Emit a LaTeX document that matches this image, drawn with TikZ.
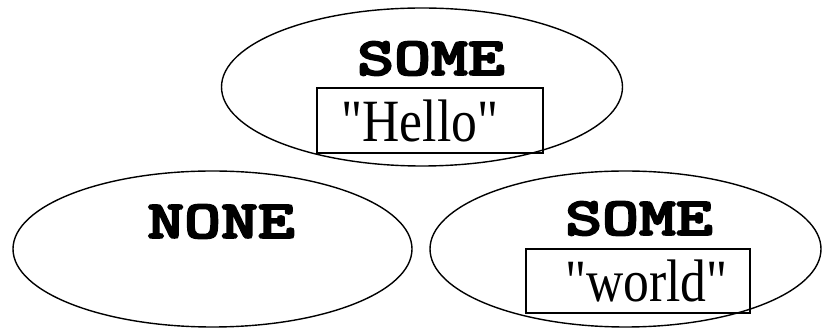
\documentclass[tikz,border=0pt]{standalone}
\usepackage{fontspec}
\usepackage{graphicx}
\setmainfont{Liberation Serif}
\newfontfamily\ctorfont[FakeBold=3]{lmmonolt10-bold.otf}
\usetikzlibrary{shapes,positioning}

\tikzset{
  opt/.style={draw,shape=ellipse,line width=1.4pt,inner sep=0pt},
  ctor/.style={anchor=base,inner sep=0pt,font=\fontsize{54}{54}\selectfont\ctorfont},
  valbox/.style={draw,line width=1.8pt,inner sep=0pt},
  str/.style={anchor=base,inner sep=0pt,font=\fontsize{60}{60}\selectfont}
}
\newcommand{\wide}[1]{\scalebox{1.3}[1]{#1}}

\begin{document}
\begin{tikzpicture}[x=1pt,y=-1pt]
\useasboundingbox (0,0) rectangle (823,328);
% the three option values
\node[opt,minimum width=401pt,minimum height=158pt] (top) at (422,87){};
\node[opt,minimum width=399pt,minimum height=156pt] (none) at (212.5,249){};
\node[opt,minimum width=391pt,minimum height=156pt] (some) at (625.5,249){};
% constructors
\node[ctor] (tagtop) at (431,75){\wide{SOME}};
\node[ctor] (tagnone) at (221,238){\wide{NONE}};
\node[ctor] (tagsome) at (639,235){\wide{SOME}};
% payloads
\node[valbox,minimum width=226pt,minimum height=65pt] (boxhello) at (430,120.5){};
\node[str] (hello) at (420,142){\scalebox{0.86}[1]{\textquotedbl Hello\textquotedbl}};
\node[valbox,minimum width=224pt,minimum height=64pt] (boxworld) at (638,281){};
\node[str] (world) at (646.5,302){\scalebox{0.86}[1]{\textquotedbl world\textquotedbl}};
\end{tikzpicture}
\end{document}
